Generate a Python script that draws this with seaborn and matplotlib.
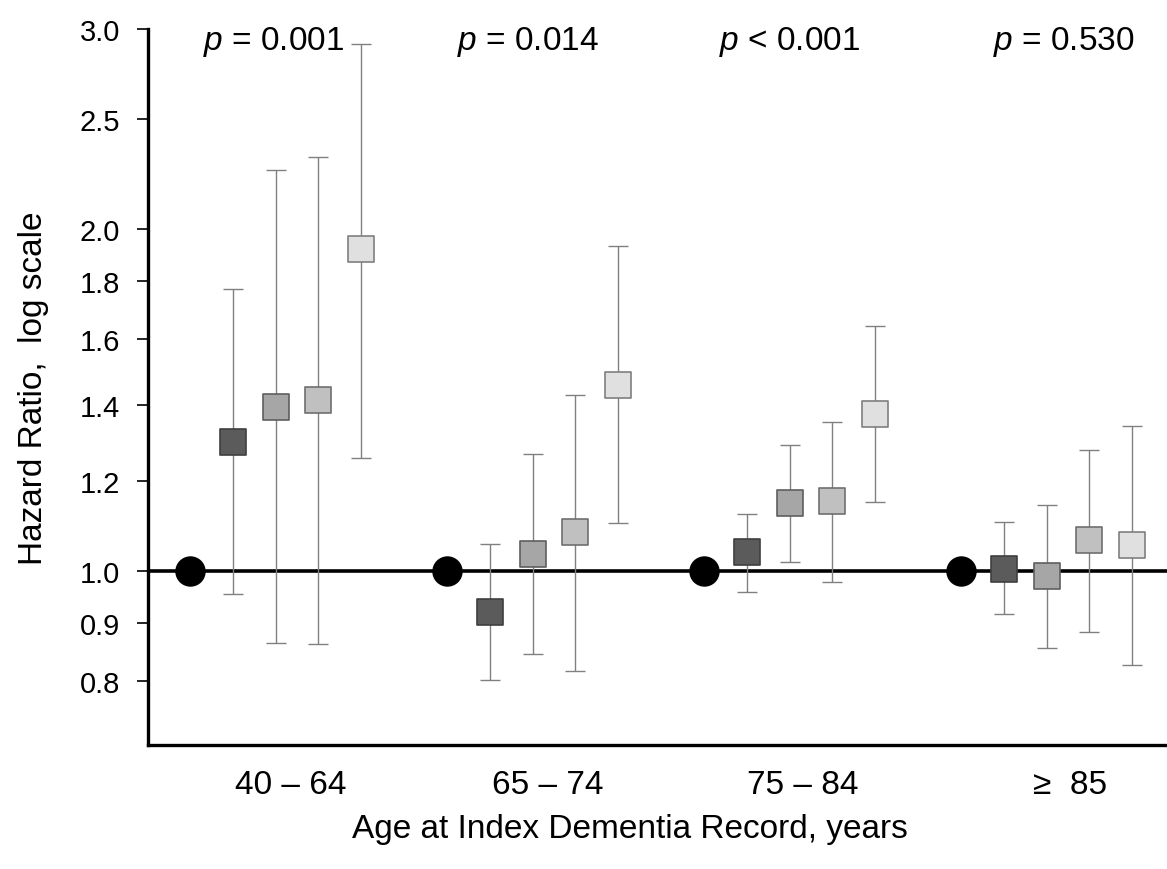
import numpy as np
import pandas as pd
import matplotlib
matplotlib.use("Agg")
import matplotlib.pyplot as plt
import seaborn as sns
from matplotlib.ticker import FixedLocator, FixedFormatter, NullLocator

# ---------------- data ----------------
age_groups = ["40 \u2013 64", "65 \u2013 74", "75 \u2013 84", "\u2265  85"]
p_texts = ["= 0.001", "= 0.014", "< 0.001", "= 0.530"]
reference_hr = [1.0, 1.0, 1.0, 1.0]

s1_hr = [1.300, 0.920, 1.039, 1.004]
s1_lo = [0.954, 0.802, 0.958, 0.917]
s1_hi = [1.771, 1.056, 1.122, 1.104]

s2_hr = [1.394, 1.035, 1.148, 0.990]
s2_lo = [0.864, 0.845, 1.018, 0.855]
s2_hi = [2.254, 1.268, 1.291, 1.143]

s3_hr = [1.414, 1.082, 1.152, 1.065]
s3_lo = [0.863, 0.817, 0.978, 0.884]
s3_hi = [2.314, 1.429, 1.353, 1.278]

s4_hr = [1.921, 1.458, 1.375, 1.054]
s4_lo = [1.257, 1.102, 1.150, 0.827]
s4_hi = [2.910, 1.932, 1.643, 1.342]

y_ticks = [0.8, 0.9, 1.0, 1.2, 1.4, 1.6, 1.8, 2.0, 2.5, 3.0]
y_tick_labels = ["0.8", "0.9", "1.0", "1.2", "1.4", "1.6", "1.8", "2.0", "2.5", "3.0"]

# ---------------- style ----------------
sns.set_style("white")
plt.rcParams["font.family"] = ["Liberation Sans", "DejaVu Sans"]
plt.rcParams["mathtext.fontset"] = "custom"
plt.rcParams["mathtext.it"] = "Liberation Sans:italic"
plt.rcParams["mathtext.rm"] = "Liberation Sans"
for key in ["text.color", "axes.labelcolor", "xtick.color", "ytick.color"]:
    plt.rcParams[key] = "black"

fills = ["#5b5b5b", "#a6a6a6", "#c0c0c0", "#e0e0e0"]
edges = ["#3f3f3f", "#5f5f5f", "#6f6f6f", "#7f7f7f"]

series = [(s1_hr, s1_lo, s1_hi), (s2_hr, s2_lo, s2_hi),
          (s3_hr, s3_lo, s3_hi), (s4_hr, s4_lo, s4_hi)]

fig = plt.figure(figsize=(11.67, 8.70), dpi=100)
ax = fig.add_axes([0.1268, 0.1425, 0.8732, 0.8230])
ax.set_yscale("log")

group_step = 6
base = np.arange(len(age_groups)) * group_step

# reference line
ax.axhline(1.0, color="black", lw=2.6, zorder=1)

# series with error bars
for k, (hr, lo, hi) in enumerate(series):
    x = base + (k + 1)
    hr = np.array(hr); lo = np.array(lo); hi = np.array(hi)
    ax.errorbar(x, hr, yerr=[hr - lo, hi - hr], fmt="none", ecolor="#808080",
                elinewidth=1.0, capsize=7.5, capthick=1.0, zorder=2)
    df = pd.DataFrame({"x": x, "hr": hr})
    sns.scatterplot(data=df, x="x", y="hr", marker="s", s=370, color=fills[k],
                    edgecolor=edges[k], linewidth=1.2, zorder=3, ax=ax, legend=False)

# reference circles
df_ref = pd.DataFrame({"x": base.astype(float), "hr": reference_hr})
sns.scatterplot(data=df_ref, x="x", y="hr", marker="o", s=480, color="black",
                edgecolor="black", linewidth=0, zorder=4, ax=ax, legend=False)

# axes
ax.set_xlim(-0.98, 22.81)
ax.set_ylim(0.703, 3.0)
ax.yaxis.set_major_locator(FixedLocator(y_ticks))
ax.yaxis.set_major_formatter(FixedFormatter(y_tick_labels))
ax.yaxis.set_minor_locator(NullLocator())
ax.tick_params(axis="y", which="major", direction="out", length=8, width=1.2,
               color="black", labelsize=21, pad=12, left=True)

ax.set_xticks(base + np.array([2.35, 2.35, 2.3, 2.55]))
ax.set_xticklabels(age_groups, fontsize=24)
ax.tick_params(axis="x", length=0, pad=17)

for side in ["top", "right"]:
    ax.spines[side].set_visible(False)
for side in ["left", "bottom"]:
    ax.spines[side].set_linewidth(2.4)
    ax.spines[side].set_color("black")

ax.set_xlabel("Age at Index Dementia Record, years", fontsize=24, labelpad=10)
ax.xaxis.set_label_coords(0.473, -0.095)
ax.set_ylabel("Hazard Ratio,  log scale", fontsize=24, labelpad=22)

# p-values
p_offsets = [1.96, 1.90, 2.0, 2.4]
for g, (txt, off) in enumerate(zip(p_texts, p_offsets)):
    ax.text(base[g] + off, 2.93, r"$p$ " + txt, ha="center", va="center", fontsize=24)

fig.savefig("out.png", dpi=100)
